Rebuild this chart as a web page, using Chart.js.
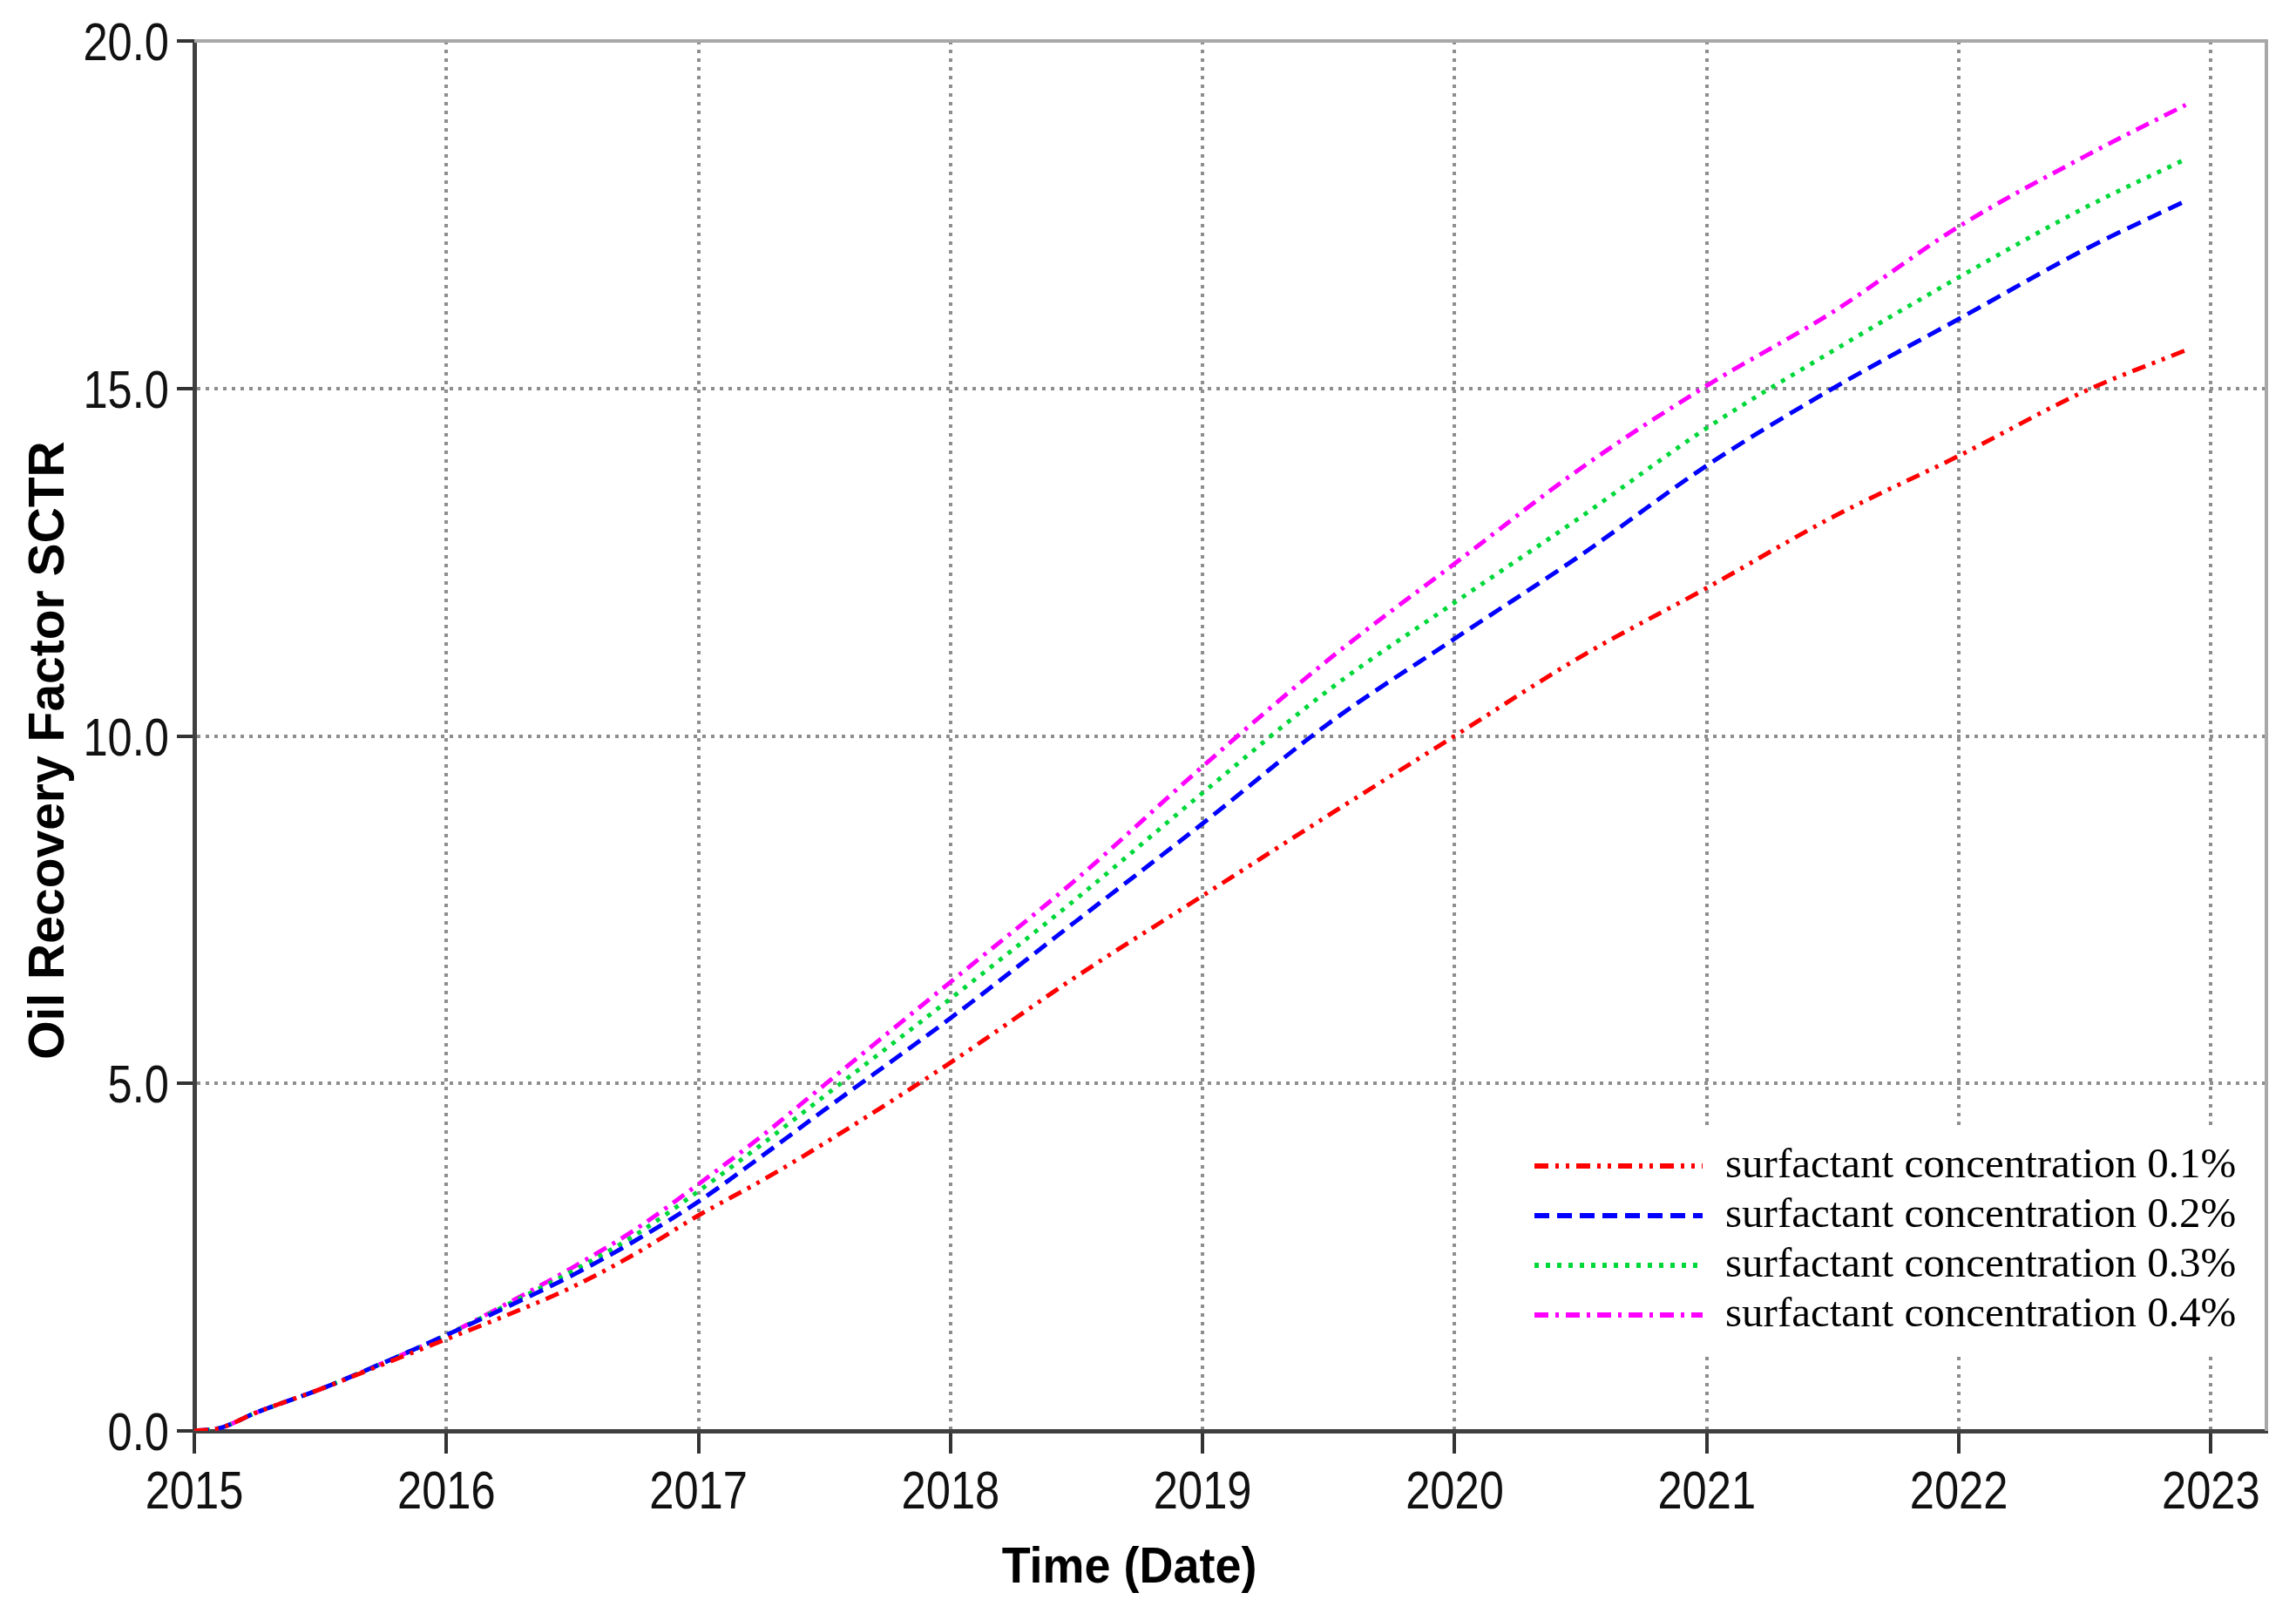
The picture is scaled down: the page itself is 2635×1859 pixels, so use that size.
<!DOCTYPE html>
<html>
<head>
<meta charset="utf-8">
<script src="https://cdn.jsdelivr.net/npm/chart.js@4.4.1/dist/chart.umd.min.js"></script>
<style>
  body { margin: 0; background: #fff; }
  #wrap { width: 2635px; height: 1859px; }
</style>
</head>
<body>
<div id="wrap"><canvas id="myRecoveryChart" width="2635" height="1859"></canvas></div>
<script>
// values
var years = [2015, 2015.1, 2015.25, 2015.5, 2015.75, 2016, 2016.25, 2016.5, 2016.75, 2017, 2017.25, 2017.5,
             2018, 2018.5, 2019, 2019.5, 2020, 2020.5, 2021, 2021.5, 2022, 2022.5, 2022.9];
var conc01 = [0, 0.04, 0.27, 0.6, 0.96, 1.32, 1.68, 2.07, 2.55, 3.1, 3.6, 4.14,
              5.3, 6.54, 7.7, 8.86, 10.0, 11.14, 12.13, 13.15, 14.03, 14.96, 15.55];
var conc02 = [0, 0.04, 0.27, 0.6, 0.98, 1.38, 1.8, 2.24, 2.74, 3.3, 3.95, 4.62,
              5.94, 7.34, 8.74, 10.18, 11.4, 12.6, 13.89, 15.0, 16.0, 17.0, 17.7];
var conc03 = [0, 0.04, 0.27, 0.6, 0.98, 1.38, 1.83, 2.3, 2.82, 3.45, 4.12, 4.82,
              6.22, 7.66, 9.18, 10.66, 11.92, 13.15, 14.43, 15.54, 16.6, 17.6, 18.3];
var conc04 = [0, 0.04, 0.27, 0.6, 0.98, 1.38, 1.85, 2.35, 2.9, 3.55, 4.24, 4.98,
              6.46, 7.94, 9.56, 11.1, 12.48, 13.85, 15.04, 16.1, 17.33, 18.34, 19.08];
var yearTicks = [2015, 2016, 2017, 2018, 2019, 2020, 2021, 2022, 2023];
var seriesLabels = ["surfactant concentration 0.1%", "surfactant concentration 0.2%",
                    "surfactant concentration 0.3%", "surfactant concentration 0.4%"];
var xTitle = "Time (Date)";
var yTitle = "Oil Recovery Factor SCTR";

function toPoints(vals) {
    return years.map(function (x, i) { return { x: x, y: vals[i] }; });
}

function lineSet(label, vals, color, dash) {
    return {
        label: label,
        data: toPoints(vals),
        borderColor: color,
        backgroundColor: color,
        borderWidth: 5,
        borderDash: dash,
        borderCapStyle: 'butt',
        pointRadius: 0,
        fill: false,
        cubicInterpolationMode: 'monotone'
    };
}

// top / right frame in light grey
var framePlugin = {
    id: 'frame',
    afterDraw: function (chart) {
        var a = chart.chartArea, ctx = chart.ctx;
        ctx.save();
        ctx.strokeStyle = '#a8a8a8';
        ctx.lineWidth = 4;
        ctx.beginPath();
        ctx.moveTo(a.left, a.top);
        ctx.lineTo(a.right, a.top);
        ctx.lineTo(a.right, a.bottom);
        ctx.stroke();
        ctx.strokeStyle = '#333';
        ctx.beginPath();
        ctx.moveTo(a.left - 20, a.top);
        ctx.lineTo(a.left, a.top);
        ctx.stroke();
        ctx.restore();
    }
};

// tick labels and axis titles in a slightly condensed Arial-like face
var textPlugin = {
    id: 'axisText',
    afterDraw: function (chart) {
        var ctx = chart.ctx, sx = chart.scales.x, sy = chart.scales.y;
        var squeeze = 0.83;
        ctx.save();
        ctx.fillStyle = '#111';
        ctx.font = '61px "Liberation Sans", Arial, sans-serif';
        ctx.textAlign = 'center';
        ctx.textBaseline = 'alphabetic';
        sx.ticks.forEach(function (t) {
            var px = sx.getPixelForValue(t.value);
            ctx.save();
            ctx.translate(px, 1731);
            ctx.scale(squeeze, 1);
            ctx.fillText(t.label, 0, 0);
            ctx.restore();
        });
        ctx.textAlign = 'right';
        sy.ticks.forEach(function (t) {
            var py = sy.getPixelForValue(t.value);
            ctx.save();
            ctx.translate(194, py + 22);
            ctx.scale(squeeze, 1);
            ctx.fillText(t.label, 0, 0);
            ctx.restore();
        });
        ctx.fillStyle = '#000';
        ctx.font = 'bold 58px "Liberation Sans", Arial, sans-serif';
        ctx.textAlign = 'center';
        ctx.save();
        ctx.translate(1296, 1816);
        ctx.scale(0.93, 1);
        ctx.fillText(xTitle, 0, 0);
        ctx.restore();
        ctx.save();
        ctx.translate(73, 861);
        ctx.rotate(-Math.PI / 2);
        ctx.font = 'bold 57px "Liberation Sans", Arial, sans-serif';
        ctx.fillText(yTitle, 0, 0);
        ctx.restore();
        ctx.restore();
    }
};

// legend box inside the plot, lower right
var boxLegend = {
    id: 'boxLegend',
    afterDatasetsDraw: function (chart) {
        var ctx = chart.ctx, a = chart.chartArea;
        var left = 1745, top = 1291, bottom = 1555;
        ctx.save();
        ctx.fillStyle = '#fff';
        ctx.fillRect(left, top, a.right - 3 - left, bottom - top);
        ctx.font = '49px "Liberation Serif", "Times New Roman", serif';
        ctx.textBaseline = 'middle';
        chart.data.datasets.forEach(function (ds, i) {
            var y = 1338 + i * 57;
            ctx.strokeStyle = ds.borderColor;
            ctx.lineWidth = 6;
            ctx.lineCap = 'butt';
            ctx.setLineDash(ds.borderDash);
            ctx.beginPath();
            ctx.moveTo(1761, y);
            ctx.lineTo(1954, y);
            ctx.stroke();
            ctx.setLineDash([]);
            ctx.fillStyle = '#000';
            ctx.fillText(ds.label, 1980, y);
        });
        ctx.restore();
    }
};

var ctxRecovery = document.getElementById("myRecoveryChart");

var RecoveryChart = new Chart(ctxRecovery, {
    type: 'line',
    data: {
        datasets: [
            lineSet(seriesLabels[0], conc01, '#ff0000', [16, 8, 4, 8, 4, 8]),
            lineSet(seriesLabels[1], conc02, '#0000ff', [17, 9]),
            lineSet(seriesLabels[2], conc03, '#00d83a', [5, 8]),
            lineSet(seriesLabels[3], conc04, '#ff00ff', [16, 8, 4, 8])
        ]
    },
    options: {
        responsive: false,
        animation: false,
        layout: { padding: { top: 47, right: 34, left: 0, bottom: 0 } },
        plugins: {
            legend: { display: false },
            tooltip: { enabled: false }
        },
        scales: {
            x: {
                type: 'linear',
                min: 2015,
                max: 2023.22,
                afterBuildTicks: function (scale) {
                    scale.ticks = yearTicks.map(function (v) { return { value: v }; });
                },
                afterFit: function (scale) { scale.height = 217; },
                ticks: {
                    display: false,
                    autoSkip: false,
                    callback: function (v) { return String(v); }
                },
                grid: {
                    color: '#8e8e8e',
                    lineWidth: 4,
                    drawTicks: true,
                    tickLength: 26,
                    tickColor: '#333',
                    tickWidth: 4,
                    tickBorderDash: []
                },
                border: { display: true, color: '#404040', width: 5, dash: [4, 6] }
            },
            y: {
                min: 0,
                max: 20,
                afterFit: function (scale) { scale.width = 223; },
                ticks: {
                    display: false,
                    stepSize: 5,
                    callback: function (v) { return v.toFixed(1); }
                },
                grid: {
                    color: '#8e8e8e',
                    lineWidth: 4,
                    drawTicks: true,
                    tickLength: 20,
                    tickColor: '#333',
                    tickWidth: 4,
                    tickBorderDash: []
                },
                border: { display: true, color: '#404040', width: 5, dash: [4, 6] }
            }
        }
    },
    plugins: [framePlugin, textPlugin, boxLegend]
});
</script>
</body>
</html>
